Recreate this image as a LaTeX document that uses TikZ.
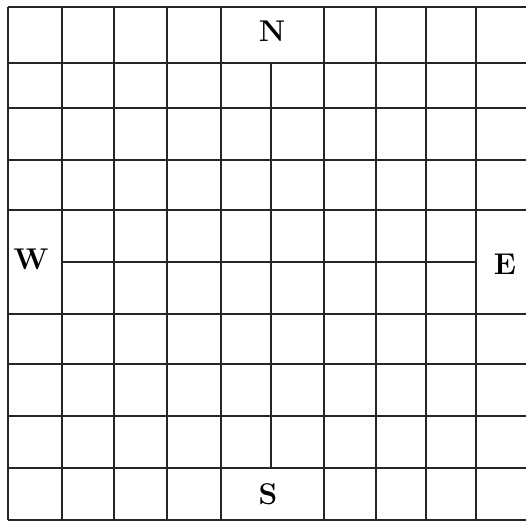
\documentclass[tikz,border=0pt]{standalone}
\begin{document}
\begin{tikzpicture}[x=1pt,y=-1pt,
  gridline/.style={line width=1.8pt, black!85},
  lbl/.style={font=\fontsize{30}{30}\selectfont\bfseries, inner sep=0pt}]
\useasboundingbox (0,0) rectangle (526,524);
% full vertical lines
\foreach \x in {8,62,114,167,221,324,376,426,476}
  \draw[gridline] (\x,7) -- (\x,520);
% full horizontal lines
\foreach \y in {7,63,108,160,210,314,364,416,468,520}
  \draw[gridline] (8,\y) -- (526,\y);
% axis lines
\draw[gridline] (271,63) -- (271,468);
\draw[gridline] (62,262) -- (476,262);
% labels
\node[lbl] (n) at (272,31) {N};
\node[lbl] (w) at (31,259) {W};
\node[lbl] (e) at (505,264) {E};
\node[lbl] (s) at (268,494) {S};
\end{tikzpicture}
\end{document}
